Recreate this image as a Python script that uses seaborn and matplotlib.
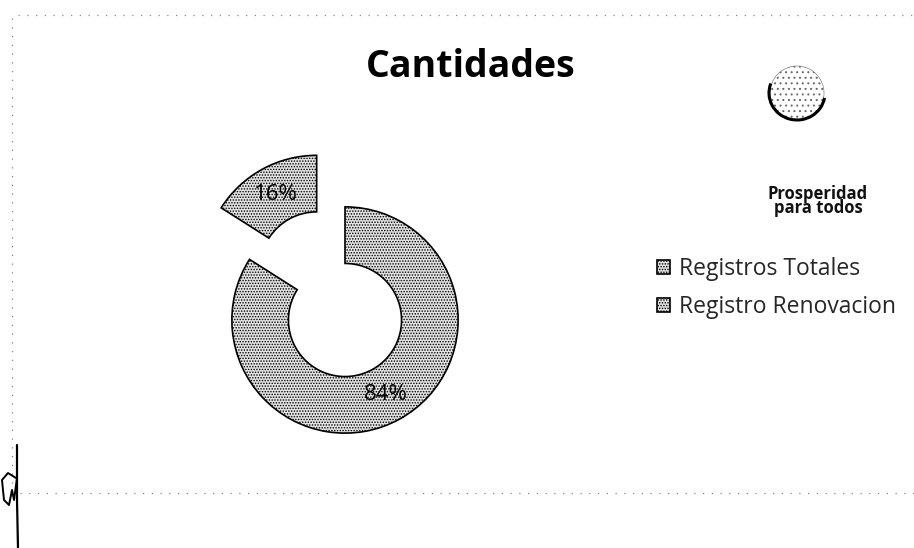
"""
Cantidades - donut chart of registration shares (Registros Totales vs Registro Renovacion).
"""

import matplotlib
matplotlib.use("Agg")

import matplotlib.pyplot as plt
import seaborn as sns
from matplotlib.patches import Circle, Arc

# chart data
categories = ["Registros Totales", "Registro Renovacion"]
shares = [84, 16]
title = "Cantidades"
logo_text = "Prosperidad\npara todos"

sns.set_theme(style="white")
plt.rcParams["font.family"] = ["Open Sans", "DejaVu Sans"]
plt.rcParams["hatch.linewidth"] = 0.7

W, H = 914, 548
fig = plt.figure(figsize=(W / 100, H / 100), dpi=100)
fig.patch.set_facecolor("white")

# overlay axes in pixel units for the scanned-page decorations
deco = fig.add_axes([0, 0, 1, 1])
deco.set_xlim(0, W)
deco.set_ylim(H, 0)
deco.axis("off")
deco.patch.set_visible(False)

dots = dict(color="#888888", lw=0.9, linestyle=(0, (1, 6)))
deco.plot([18, W], [15, 15], **dots)
deco.plot([12, 12], [18, 490], **dots)
deco.plot([20, W], [493, 493], **dots)

# signature mark at lower left
deco.plot([17, 17, 18], [445, 500, 548], color="black", lw=1.6)
deco.plot([16, 8, 2, 4, 9, 12, 14, 17], [478, 473, 480, 500, 505, 490, 500, 478],
          color="black", lw=1.4)

# logo in the upper right
deco.add_patch(Circle((797, 93), 27, facecolor="white", edgecolor="#666666",
                      hatch="...", lw=0.4))
deco.add_patch(Arc((797, 93), 56, 54, theta1=10, theta2=200, color="black", lw=2.2))
fig.text(818 / W, 1 - 201 / H, logo_text, ha="center", va="center",
         fontsize=12, fontweight="bold", linespacing=0.75, color="#111111")

# donut chart
ax = fig.add_axes([164 / W, 47 / H, 362 / W, 362 / H])
wedges, texts, autotexts = ax.pie(
    shares,
    startangle=90,
    counterclock=False,
    explode=[0, 0.52],
    autopct="%1.0f%%",
    pctdistance=0.75,
    wedgeprops=dict(width=0.5, facecolor="#e2e2e2", edgecolor="black",
                    linewidth=1.2, hatch="......"),
    textprops=dict(fontsize=16, color="black"),
)
ax.set_xlim(-1.6, 1.6)
ax.set_ylim(-1.6, 1.6)
ax.set_aspect("equal")
ax.axis("off")

fig.text(471 / W, 1 - 67 / H, title, ha="center", va="center",
         fontsize=27, fontweight="bold", color="black")

fig.legend(wedges, categories, loc="center left",
           bbox_to_anchor=(657 / W, 1 - 288 / H), frameon=False,
           fontsize=16.5, handlelength=0.55, handleheight=0.55,
           handletextpad=0.4, labelspacing=0.6, borderpad=0, borderaxespad=0)

plt.savefig("out.png", dpi=100, facecolor="white")
plt.close()
